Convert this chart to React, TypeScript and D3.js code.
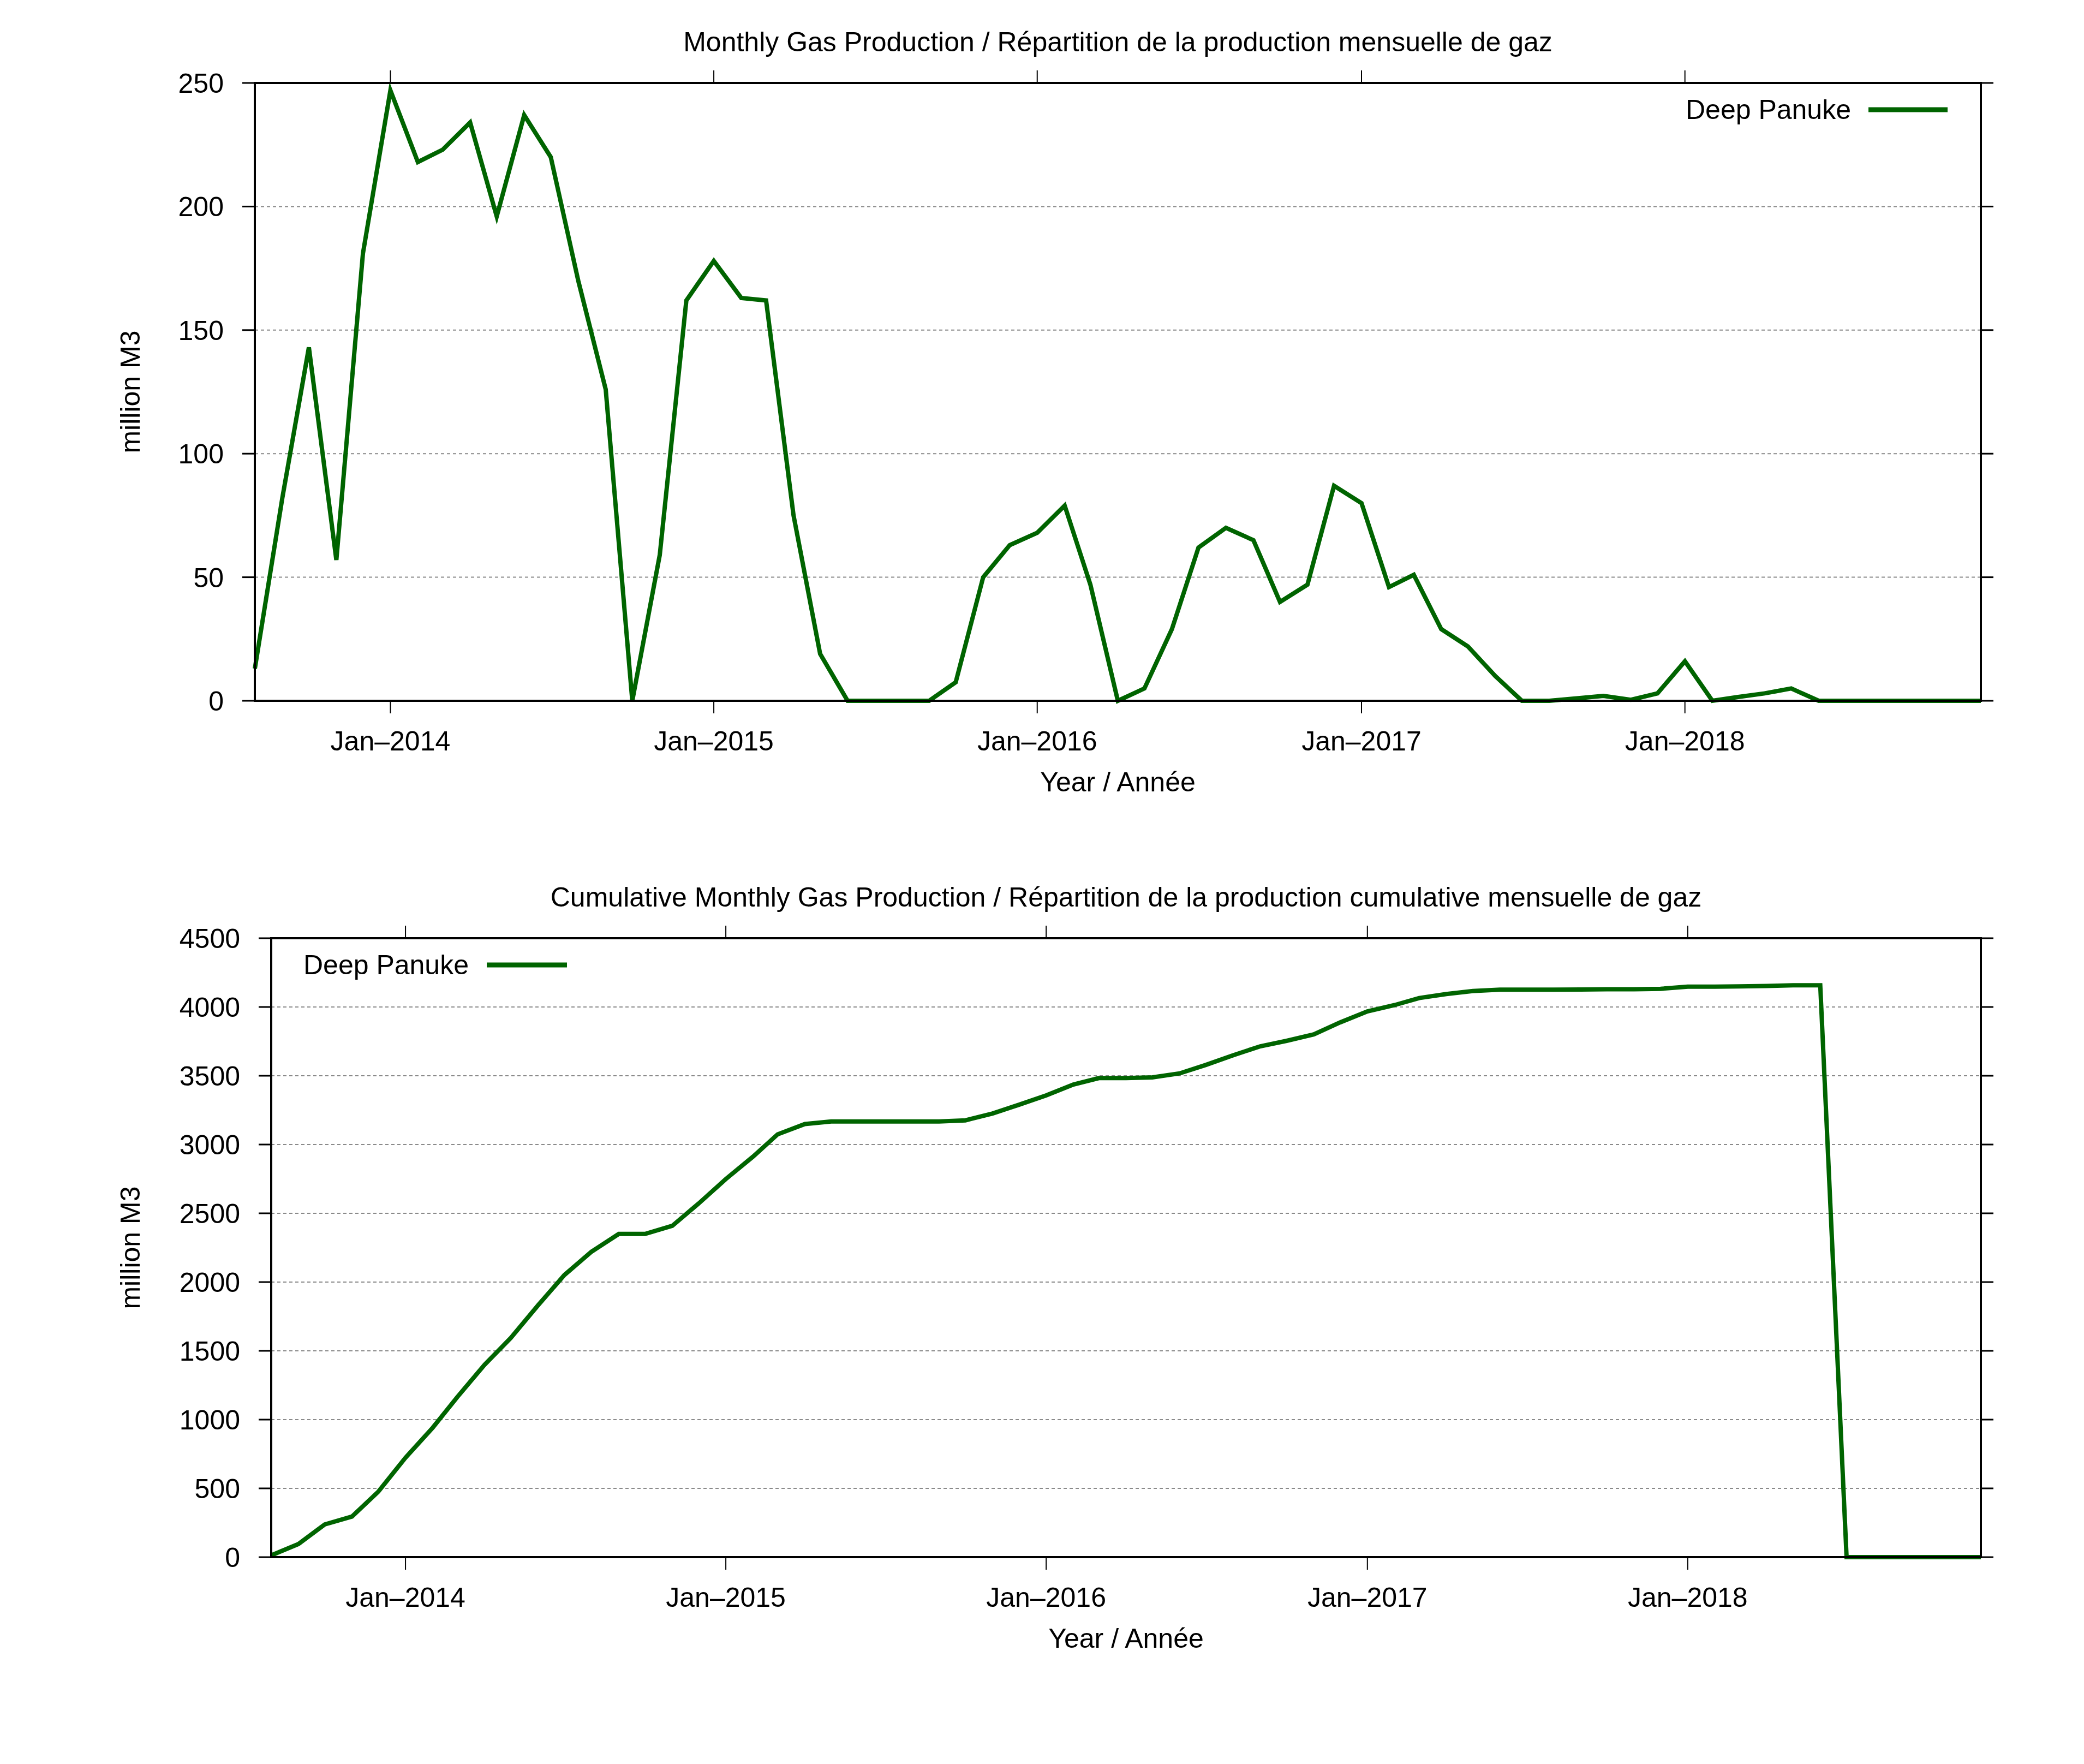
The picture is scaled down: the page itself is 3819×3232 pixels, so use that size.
import React from "react";
import * as d3 from "d3";

// ---- Data ----
const startMonth = "2013-08";
const endMonth = "2018-12";

const monthlyProduction: number[] = [
  // 2013 Aug-Dec
  13, 82, 143, 57, 181,
  // 2014
  247, 218, 223, 234, 196, 237, 220, 170, 126, 0, 59, 162,
  // 2015
  178, 163, 162, 75, 19, 0, 0, 0, 0, 7.5, 50, 63,
  // 2016
  68, 79, 47, 0, 5, 29, 62, 70, 65, 40, 47, 87,
  // 2017
  80, 46, 51, 29, 22, 10, 0, 0, 1, 2, 0.4, 3,
  // 2018
  16, 0, 1.5, 3, 5, 0, 0, 0, 0, 0, 0, 0,
];

const cumulativeProduction: number[] = [
  // 2013 Aug-Dec
  13, 95, 238, 295, 476,
  // 2014
  723, 941, 1164, 1398, 1594, 1831, 2051, 2221, 2350, 2350, 2409, 2571,
  // 2015
  2749, 2912, 3074, 3149, 3168, 3168, 3168, 3168, 3168, 3176, 3226, 3289,
  // 2016
  3357, 3436, 3483, 3483, 3488, 3517, 3579, 3649, 3714, 3754, 3801, 3888,
  // 2017
  3968, 4014, 4065, 4094, 4116, 4126, 4126, 4126, 4127, 4129, 4129, 4132,
  // 2018
  4148, 4148, 4150, 4153, 4158, 4158, 0, 0, 0, 0, 0, 0,
];

const xTickLabels: string[] = ["Jan–2014", "Jan–2015", "Jan–2016", "Jan–2017", "Jan–2018"];
const xTickDates: string[] = ["2014-01", "2015-01", "2016-01", "2017-01", "2018-01"];

const monthlyYTicks: number[] = [0, 50, 100, 150, 200, 250];
const cumulativeYTicks: number[] = [0, 500, 1000, 1500, 2000, 2500, 3000, 3500, 4000, 4500];

const seriesName = "Deep Panuke";
const titleMonthly = "Monthly Gas Production / Répartition de la production mensuelle de gaz";
const titleCumulative = "Cumulative Monthly Gas Production / Répartition de la production cumulative mensuelle de gaz";
const xAxisTitle = "Year / Année";
const yAxisTitle = "million M3";

// ---- helpers ----
const parseMonth = d3.timeParse("%Y-%m");
const months: Date[] = d3.timeMonth.range(
  parseMonth(startMonth) as Date,
  d3.timeMonth.offset(parseMonth(endMonth) as Date, 1)
);

const FONT = "'Liberation Sans', Arial, Helvetica, sans-serif";
const LINE_COLOR = "#006400";

type PanelProps = {
  left: number;
  right: number;
  top: number;
  bottom: number;
  values: number[];
  yTicks: number[];
  title: string;
  legendSide: "left" | "right";
};

function Panel({ left, right, top, bottom, values, yTicks, title, legendSide }: PanelProps) {
  const x = d3
    .scaleTime()
    .domain([months[0], months[months.length - 1]])
    .range([left, right]);
  const y = d3
    .scaleLinear()
    .domain([yTicks[0], yTicks[yTicks.length - 1]])
    .range([bottom, top]);

  const line = d3
    .line<number>()
    .x((_, i) => x(months[i]))
    .y((d) => y(d));

  const cx = (left + right) / 2;
  const cy = (top + bottom) / 2;
  const tickLen = 23;

  // legend geometry
  const legendTextEnd = legendSide === "right" ? right - 238 : left + 362;
  const legendLineStart = legendSide === "right" ? right - 206 : left + 395;
  const legendLineEnd = legendSide === "right" ? right - 61 : left + 542;

  return (
    <g>
      {/* title */}
      <text x={cx} y={top - 58} textAnchor="middle" fontSize={50} fontFamily={FONT} fill="#000">
        {title}
      </text>

      {/* gridlines */}
      {yTicks.slice(1, -1).map((t) => (
        <line
          key={"g" + t}
          x1={left}
          x2={right}
          y1={y(t)}
          y2={y(t)}
          stroke="#8a8a8a"
          strokeWidth={2}
          strokeDasharray="6,5"
        />
      ))}

      {/* y ticks (both sides, outward) and labels */}
      {yTicks.map((t) => (
        <g key={"y" + t}>
          <line x1={left - tickLen} x2={left} y1={y(t)} y2={y(t)} stroke="#000" strokeWidth={3} />
          <line x1={right} x2={right + tickLen} y1={y(t)} y2={y(t)} stroke="#000" strokeWidth={3} />
          <text
            x={left - 57}
            y={y(t) + 18}
            textAnchor="end"
            fontSize={50}
            fontFamily={FONT}
            fill="#000"
          >
            {t}
          </text>
        </g>
      ))}

      {/* x ticks (top and bottom, outward) and labels */}
      {xTickDates.map((d, i) => {
        const xv = x(parseMonth(d) as Date);
        return (
          <g key={"x" + d}>
            <line x1={xv} x2={xv} y1={bottom} y2={bottom + tickLen} stroke="#000" strokeWidth={2} />
            <line x1={xv} x2={xv} y1={top - tickLen} y2={top} stroke="#000" strokeWidth={2} />
            <text x={xv} y={bottom + 91} textAnchor="middle" fontSize={50} fontFamily={FONT} fill="#000">
              {xTickLabels[i]}
            </text>
          </g>
        );
      })}

      {/* data line */}
      <path
        d={line(values) || ""}
        fill="none"
        stroke={LINE_COLOR}
        strokeWidth={8}
        strokeLinejoin="miter"
        strokeMiterlimit={4}
      />

      {/* border */}
      <rect
        x={left}
        y={top}
        width={right - left}
        height={bottom - top}
        fill="none"
        stroke="#000"
        strokeWidth={4}
      />

      {/* legend */}
      <text
        x={legendTextEnd}
        y={top + 66}
        textAnchor="end"
        fontSize={50}
        fontFamily={FONT}
        fill="#000"
      >
        {seriesName}
      </text>
      <line
        x1={legendLineStart}
        x2={legendLineEnd}
        y1={top + 49}
        y2={top + 49}
        stroke={LINE_COLOR}
        strokeWidth={9}
      />

      {/* axis titles */}
      <text x={cx} y={bottom + 166} textAnchor="middle" fontSize={50} fontFamily={FONT} fill="#000">
        {xAxisTitle}
      </text>
      <text
        transform={`translate(256, ${cy}) rotate(-90)`}
        textAnchor="middle"
        fontSize={50}
        fontFamily={FONT}
        fill="#000"
      >
        {yAxisTitle}
      </text>
    </g>
  );
}

export default function App() {
  const W = 3819;
  const H = 3232;
  return (
    <div style={{ position: "absolute", left: 0, top: 0, width: W, height: H, background: "#fff" }}>
      <svg width={W} height={H} viewBox={`0 0 ${W} ${H}`} style={{ display: "block", background: "#fff" }}>
        <rect x={0} y={0} width={W} height={H} fill="#fff" />
        <Panel
          left={467}
          right={3630}
          top={152}
          bottom={1284}
          values={monthlyProduction}
          yTicks={monthlyYTicks}
          title={titleMonthly}
          legendSide="right"
        />
        <Panel
          left={497}
          right={3630}
          top={1719}
          bottom={2853}
          values={cumulativeProduction}
          yTicks={cumulativeYTicks}
          title={titleCumulative}
          legendSide="left"
        />
      </svg>
    </div>
  );
}
